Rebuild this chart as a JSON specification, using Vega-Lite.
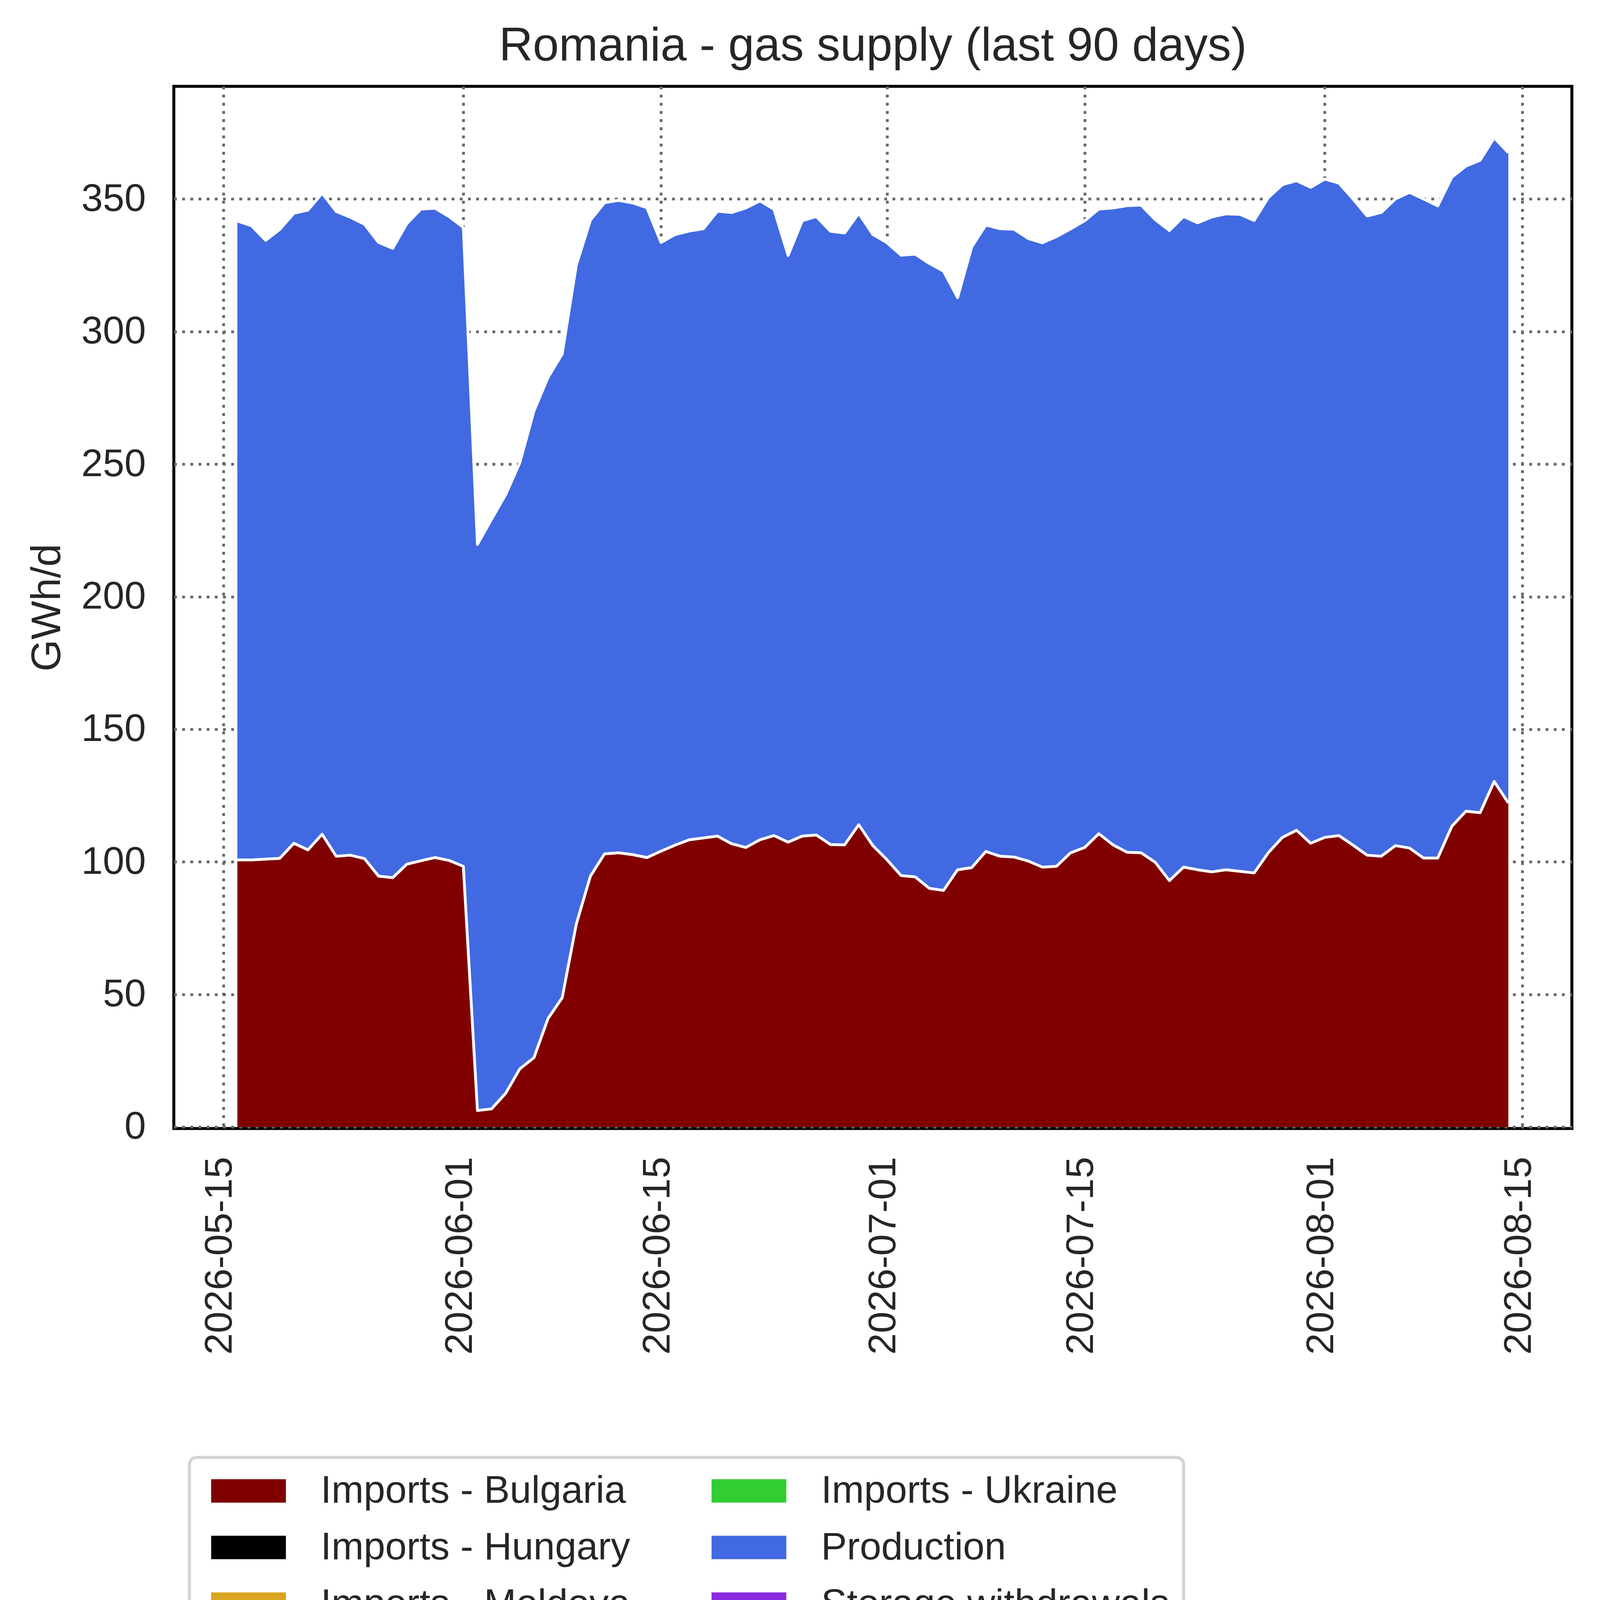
{
  "$schema": "https://vega.github.io/schema/vega-lite/v6.json",
  "width": 3579,
  "height": 2668,
  "autosize": {"type": "none"},
  "padding": {"left": 445, "top": 221, "right": 72, "bottom": 1385},
  "background": "white",
  "title": {
    "text": "Romania - gas supply (last 90 days)",
    "font": "Liberation Sans",
    "fontSize": 120,
    "fontWeight": "normal",
    "color": "#262626",
    "anchor": "middle",
    "frame": "group",
    "baseline": "alphabetic",
    "offset": -54
  },
  "data": {
    "values": [
      {"date": "2026-05-16", "series": "Imports - Bulgaria", "value": 100.7},
      {"date": "2026-05-17", "series": "Imports - Bulgaria", "value": 100.7},
      {"date": "2026-05-18", "series": "Imports - Bulgaria", "value": 101.0},
      {"date": "2026-05-19", "series": "Imports - Bulgaria", "value": 101.3},
      {"date": "2026-05-20", "series": "Imports - Bulgaria", "value": 107.0},
      {"date": "2026-05-21", "series": "Imports - Bulgaria", "value": 104.5},
      {"date": "2026-05-22", "series": "Imports - Bulgaria", "value": 110.4},
      {"date": "2026-05-23", "series": "Imports - Bulgaria", "value": 102.1},
      {"date": "2026-05-24", "series": "Imports - Bulgaria", "value": 102.5},
      {"date": "2026-05-25", "series": "Imports - Bulgaria", "value": 101.2},
      {"date": "2026-05-26", "series": "Imports - Bulgaria", "value": 94.6},
      {"date": "2026-05-27", "series": "Imports - Bulgaria", "value": 94.0},
      {"date": "2026-05-28", "series": "Imports - Bulgaria", "value": 99.1},
      {"date": "2026-05-29", "series": "Imports - Bulgaria", "value": 100.4},
      {"date": "2026-05-30", "series": "Imports - Bulgaria", "value": 101.6},
      {"date": "2026-05-31", "series": "Imports - Bulgaria", "value": 100.5},
      {"date": "2026-06-01", "series": "Imports - Bulgaria", "value": 98.3},
      {"date": "2026-06-02", "series": "Imports - Bulgaria", "value": 6.2},
      {"date": "2026-06-03", "series": "Imports - Bulgaria", "value": 6.8},
      {"date": "2026-06-04", "series": "Imports - Bulgaria", "value": 12.7},
      {"date": "2026-06-05", "series": "Imports - Bulgaria", "value": 21.9},
      {"date": "2026-06-06", "series": "Imports - Bulgaria", "value": 26.1},
      {"date": "2026-06-07", "series": "Imports - Bulgaria", "value": 40.9},
      {"date": "2026-06-08", "series": "Imports - Bulgaria", "value": 48.7},
      {"date": "2026-06-09", "series": "Imports - Bulgaria", "value": 76.5},
      {"date": "2026-06-10", "series": "Imports - Bulgaria", "value": 94.6},
      {"date": "2026-06-11", "series": "Imports - Bulgaria", "value": 103.0},
      {"date": "2026-06-12", "series": "Imports - Bulgaria", "value": 103.4},
      {"date": "2026-06-13", "series": "Imports - Bulgaria", "value": 102.7},
      {"date": "2026-06-14", "series": "Imports - Bulgaria", "value": 101.6},
      {"date": "2026-06-15", "series": "Imports - Bulgaria", "value": 104.0},
      {"date": "2026-06-16", "series": "Imports - Bulgaria", "value": 106.3},
      {"date": "2026-06-17", "series": "Imports - Bulgaria", "value": 108.3},
      {"date": "2026-06-18", "series": "Imports - Bulgaria", "value": 109.0},
      {"date": "2026-06-19", "series": "Imports - Bulgaria", "value": 109.7},
      {"date": "2026-06-20", "series": "Imports - Bulgaria", "value": 106.8},
      {"date": "2026-06-21", "series": "Imports - Bulgaria", "value": 105.4},
      {"date": "2026-06-22", "series": "Imports - Bulgaria", "value": 108.3},
      {"date": "2026-06-23", "series": "Imports - Bulgaria", "value": 109.9},
      {"date": "2026-06-24", "series": "Imports - Bulgaria", "value": 107.4},
      {"date": "2026-06-25", "series": "Imports - Bulgaria", "value": 109.7},
      {"date": "2026-06-26", "series": "Imports - Bulgaria", "value": 110.1},
      {"date": "2026-06-27", "series": "Imports - Bulgaria", "value": 106.5},
      {"date": "2026-06-28", "series": "Imports - Bulgaria", "value": 106.4},
      {"date": "2026-06-29", "series": "Imports - Bulgaria", "value": 114.0},
      {"date": "2026-06-30", "series": "Imports - Bulgaria", "value": 106.1},
      {"date": "2026-07-01", "series": "Imports - Bulgaria", "value": 100.8},
      {"date": "2026-07-02", "series": "Imports - Bulgaria", "value": 94.8},
      {"date": "2026-07-03", "series": "Imports - Bulgaria", "value": 94.3},
      {"date": "2026-07-04", "series": "Imports - Bulgaria", "value": 90.0},
      {"date": "2026-07-05", "series": "Imports - Bulgaria", "value": 89.2},
      {"date": "2026-07-06", "series": "Imports - Bulgaria", "value": 97.0},
      {"date": "2026-07-07", "series": "Imports - Bulgaria", "value": 97.8},
      {"date": "2026-07-08", "series": "Imports - Bulgaria", "value": 103.9},
      {"date": "2026-07-09", "series": "Imports - Bulgaria", "value": 102.1},
      {"date": "2026-07-10", "series": "Imports - Bulgaria", "value": 101.8},
      {"date": "2026-07-11", "series": "Imports - Bulgaria", "value": 100.3},
      {"date": "2026-07-12", "series": "Imports - Bulgaria", "value": 98.0},
      {"date": "2026-07-13", "series": "Imports - Bulgaria", "value": 98.3},
      {"date": "2026-07-14", "series": "Imports - Bulgaria", "value": 103.4},
      {"date": "2026-07-15", "series": "Imports - Bulgaria", "value": 105.4},
      {"date": "2026-07-16", "series": "Imports - Bulgaria", "value": 110.6},
      {"date": "2026-07-17", "series": "Imports - Bulgaria", "value": 106.4},
      {"date": "2026-07-18", "series": "Imports - Bulgaria", "value": 103.6},
      {"date": "2026-07-19", "series": "Imports - Bulgaria", "value": 103.4},
      {"date": "2026-07-20", "series": "Imports - Bulgaria", "value": 99.8},
      {"date": "2026-07-21", "series": "Imports - Bulgaria", "value": 92.9},
      {"date": "2026-07-22", "series": "Imports - Bulgaria", "value": 98.0},
      {"date": "2026-07-23", "series": "Imports - Bulgaria", "value": 97.0},
      {"date": "2026-07-24", "series": "Imports - Bulgaria", "value": 96.2},
      {"date": "2026-07-25", "series": "Imports - Bulgaria", "value": 97.0},
      {"date": "2026-07-26", "series": "Imports - Bulgaria", "value": 96.4},
      {"date": "2026-07-27", "series": "Imports - Bulgaria", "value": 95.8},
      {"date": "2026-07-28", "series": "Imports - Bulgaria", "value": 103.4},
      {"date": "2026-07-29", "series": "Imports - Bulgaria", "value": 109.2},
      {"date": "2026-07-30", "series": "Imports - Bulgaria", "value": 111.9},
      {"date": "2026-07-31", "series": "Imports - Bulgaria", "value": 107.0},
      {"date": "2026-08-01", "series": "Imports - Bulgaria", "value": 109.2},
      {"date": "2026-08-02", "series": "Imports - Bulgaria", "value": 109.9},
      {"date": "2026-08-03", "series": "Imports - Bulgaria", "value": 106.3},
      {"date": "2026-08-04", "series": "Imports - Bulgaria", "value": 102.5},
      {"date": "2026-08-05", "series": "Imports - Bulgaria", "value": 102.1},
      {"date": "2026-08-06", "series": "Imports - Bulgaria", "value": 106.1},
      {"date": "2026-08-07", "series": "Imports - Bulgaria", "value": 105.2},
      {"date": "2026-08-08", "series": "Imports - Bulgaria", "value": 101.4},
      {"date": "2026-08-09", "series": "Imports - Bulgaria", "value": 101.4},
      {"date": "2026-08-10", "series": "Imports - Bulgaria", "value": 113.4},
      {"date": "2026-08-11", "series": "Imports - Bulgaria", "value": 119.1},
      {"date": "2026-08-12", "series": "Imports - Bulgaria", "value": 118.5},
      {"date": "2026-08-13", "series": "Imports - Bulgaria", "value": 130.3},
      {"date": "2026-08-14", "series": "Imports - Bulgaria", "value": 122.2},
      {"date": "2026-05-16", "series": "Production", "value": 241.0},
      {"date": "2026-05-17", "series": "Production", "value": 239.2},
      {"date": "2026-05-18", "series": "Production", "value": 233.4},
      {"date": "2026-05-19", "series": "Production", "value": 237.2},
      {"date": "2026-05-20", "series": "Production", "value": 237.6},
      {"date": "2026-05-21", "series": "Production", "value": 241.3},
      {"date": "2026-05-22", "series": "Production", "value": 241.8},
      {"date": "2026-05-23", "series": "Production", "value": 243.2},
      {"date": "2026-05-24", "series": "Production", "value": 240.6},
      {"date": "2026-05-25", "series": "Production", "value": 239.3},
      {"date": "2026-05-26", "series": "Production", "value": 239.0},
      {"date": "2026-05-27", "series": "Production", "value": 237.4},
      {"date": "2026-05-28", "series": "Production", "value": 241.6},
      {"date": "2026-05-29", "series": "Production", "value": 245.8},
      {"date": "2026-05-30", "series": "Production", "value": 244.9},
      {"date": "2026-05-31", "series": "Production", "value": 242.8},
      {"date": "2026-06-01", "series": "Production", "value": 241.0},
      {"date": "2026-06-02", "series": "Production", "value": 213.5},
      {"date": "2026-06-03", "series": "Production", "value": 222.4},
      {"date": "2026-06-04", "series": "Production", "value": 225.8},
      {"date": "2026-06-05", "series": "Production", "value": 228.6},
      {"date": "2026-06-06", "series": "Production", "value": 243.9},
      {"date": "2026-06-07", "series": "Production", "value": 241.8},
      {"date": "2026-06-08", "series": "Production", "value": 242.8},
      {"date": "2026-06-09", "series": "Production", "value": 248.5},
      {"date": "2026-06-10", "series": "Production", "value": 247.4},
      {"date": "2026-06-11", "series": "Production", "value": 245.6},
      {"date": "2026-06-12", "series": "Production", "value": 246.1},
      {"date": "2026-06-13", "series": "Production", "value": 245.8},
      {"date": "2026-06-14", "series": "Production", "value": 245.1},
      {"date": "2026-06-15", "series": "Production", "value": 229.6},
      {"date": "2026-06-16", "series": "Production", "value": 230.3},
      {"date": "2026-06-17", "series": "Production", "value": 229.6},
      {"date": "2026-06-18", "series": "Production", "value": 229.8},
      {"date": "2026-06-19", "series": "Production", "value": 235.7},
      {"date": "2026-06-20", "series": "Production", "value": 238.1},
      {"date": "2026-06-21", "series": "Production", "value": 241.2},
      {"date": "2026-06-22", "series": "Production", "value": 241.0},
      {"date": "2026-06-23", "series": "Production", "value": 236.2},
      {"date": "2026-06-24", "series": "Production", "value": 221.3},
      {"date": "2026-06-25", "series": "Production", "value": 232.1},
      {"date": "2026-06-26", "series": "Production", "value": 233.3},
      {"date": "2026-06-27", "series": "Production", "value": 231.3},
      {"date": "2026-06-28", "series": "Production", "value": 230.8},
      {"date": "2026-06-29", "series": "Production", "value": 230.6},
      {"date": "2026-06-30", "series": "Production", "value": 230.5},
      {"date": "2026-07-01", "series": "Production", "value": 232.7},
      {"date": "2026-07-02", "series": "Production", "value": 234.0},
      {"date": "2026-07-03", "series": "Production", "value": 234.9},
      {"date": "2026-07-04", "series": "Production", "value": 235.7},
      {"date": "2026-07-05", "series": "Production", "value": 233.6},
      {"date": "2026-07-06", "series": "Production", "value": 215.8},
      {"date": "2026-07-07", "series": "Production", "value": 234.1},
      {"date": "2026-07-08", "series": "Production", "value": 236.3},
      {"date": "2026-07-09", "series": "Production", "value": 236.7},
      {"date": "2026-07-10", "series": "Production", "value": 236.8},
      {"date": "2026-07-11", "series": "Production", "value": 234.8},
      {"date": "2026-07-12", "series": "Production", "value": 235.5},
      {"date": "2026-07-13", "series": "Production", "value": 237.5},
      {"date": "2026-07-14", "series": "Production", "value": 235.3},
      {"date": "2026-07-15", "series": "Production", "value": 236.4},
      {"date": "2026-07-16", "series": "Production", "value": 235.6},
      {"date": "2026-07-17", "series": "Production", "value": 240.2},
      {"date": "2026-07-18", "series": "Production", "value": 243.9},
      {"date": "2026-07-19", "series": "Production", "value": 244.3},
      {"date": "2026-07-20", "series": "Production", "value": 242.4},
      {"date": "2026-07-21", "series": "Production", "value": 245.2},
      {"date": "2026-07-22", "series": "Production", "value": 245.4},
      {"date": "2026-07-23", "series": "Production", "value": 244.0},
      {"date": "2026-07-24", "series": "Production", "value": 247.0},
      {"date": "2026-07-25", "series": "Production", "value": 247.4},
      {"date": "2026-07-26", "series": "Production", "value": 247.8},
      {"date": "2026-07-27", "series": "Production", "value": 246.1},
      {"date": "2026-07-28", "series": "Production", "value": 247.1},
      {"date": "2026-07-29", "series": "Production", "value": 246.2},
      {"date": "2026-07-30", "series": "Production", "value": 245.0},
      {"date": "2026-07-31", "series": "Production", "value": 247.4},
      {"date": "2026-08-01", "series": "Production", "value": 248.3},
      {"date": "2026-08-02", "series": "Production", "value": 246.1},
      {"date": "2026-08-03", "series": "Production", "value": 243.7},
      {"date": "2026-08-04", "series": "Production", "value": 241.1},
      {"date": "2026-08-05", "series": "Production", "value": 242.8},
      {"date": "2026-08-06", "series": "Production", "value": 243.9},
      {"date": "2026-08-07", "series": "Production", "value": 247.3},
      {"date": "2026-08-08", "series": "Production", "value": 248.6},
      {"date": "2026-08-09", "series": "Production", "value": 246.0},
      {"date": "2026-08-10", "series": "Production", "value": 244.8},
      {"date": "2026-08-11", "series": "Production", "value": 243.3},
      {"date": "2026-08-12", "series": "Production", "value": 246.1},
      {"date": "2026-08-13", "series": "Production", "value": 242.8},
      {"date": "2026-08-14", "series": "Production", "value": 245.3}
    ]
  },
  "layer": [
    {
      "mark": {"type": "area", "opacity": 1},
      "encoding": {
        "x": {
          "field": "date",
          "type": "temporal",
          "title": null,
          "scale": {
            "type": "utc",
            "domain": [1778500800000, 1787054400000]
          },
          "axis": {
            "values": [1778803200000, 1780272000000, 1781481600000, 1782864000000, 1784073600000, 1785542400000, 1786752000000],
            "format": "%Y-%m-%d",
            "labelAngle": 270,
            "labelAlign": "right",
            "labelBaseline": "middle",
            "labelPadding": 72,
            "labelOffset": -9,
            "labelFlush": false,
            "labelOverlap": false,
            "ticks": false,
            "domain": false,
            "grid": true
          }
        },
        "y": {
          "field": "value",
          "type": "quantitative",
          "stack": "zero",
          "title": "GWh/d",
          "scale": {"domain": [-0.6, 392.5], "nice": false, "zero": false},
          "axis": {
            "values": [0, 50, 100, 150, 200, 250, 300, 350],
            "labelPadding": 72,
            "ticks": false,
            "domain": false,
            "grid": true,
            "titleX": -292,
            "titleY": 1334,
            "titleAngle": 270,
            "titleAlign": "center",
            "titleBaseline": "alphabetic"
          }
        },
        "color": {
          "field": "series",
          "type": "nominal",
          "scale": {
            "domain": ["Imports - Bulgaria", "Imports - Hungary", "Imports - Moldova", "Imports - Ukraine", "Production", "Storage withdrawals"],
            "range": ["#800000", "#000000", "#DAA520", "#32CD32", "#4169E1", "#8A2BE2"]
          },
          "legend": {
            "title": null,
            "orient": "none",
            "legendX": 40,
            "legendY": 3510,
            "columns": 2,
            "columnPadding": 188,
            "rowPadding": 45,
            "padding": 36,
            "cornerRadius": 18,
            "fillColor": "white",
            "symbolType": "M-1,-1H5.39V1H-1Z",
            "symbolSize": 3588,
            "symbolStrokeWidth": 0,
            "symbolOpacity": 1,
            "labelOffset": 201,
            "labelFont": "Liberation Sans",
            "labelFontSize": 99,
            "labelColor": "#262626",
            "labelLimit": 3000,
            "labelBaseline": "middle"
          }
        },
        "order": {"field": "series", "sort": "ascending"}
      }
    },
    {
      "mark": {"type": "line", "color": "white", "strokeWidth": 7.2, "strokeJoin": "round"},
      "encoding": {
        "x": {"field": "date", "type": "temporal", "title": null},
        "y": {"field": "value", "type": "quantitative", "stack": "zero", "title": "GWh/d"},
        "detail": {"field": "series"},
        "order": {"field": "series", "sort": "ascending"}
      }
    }
  ],
  "config": {
    "font": "Liberation Sans",
    "view": {"stroke": "black", "strokeWidth": 7.6},
    "legend": {
      "strokeColor": "#d4d4d4",
      "strokeWidth": 8
    },
    "axis": {
      "labelFont": "Liberation Sans",
      "labelFontSize": 99,
      "labelColor": "#262626",
      "labelLimit": 2000,
      "titleFont": "Liberation Sans",
      "titleFontSize": 105,
      "titleFontWeight": "normal",
      "titleColor": "#262626",
      "gridColor": "#696969",
      "gridWidth": 7.2,
      "gridDash": [7.2, 13.7],
      "gridOpacity": 1
    }
  }
}
